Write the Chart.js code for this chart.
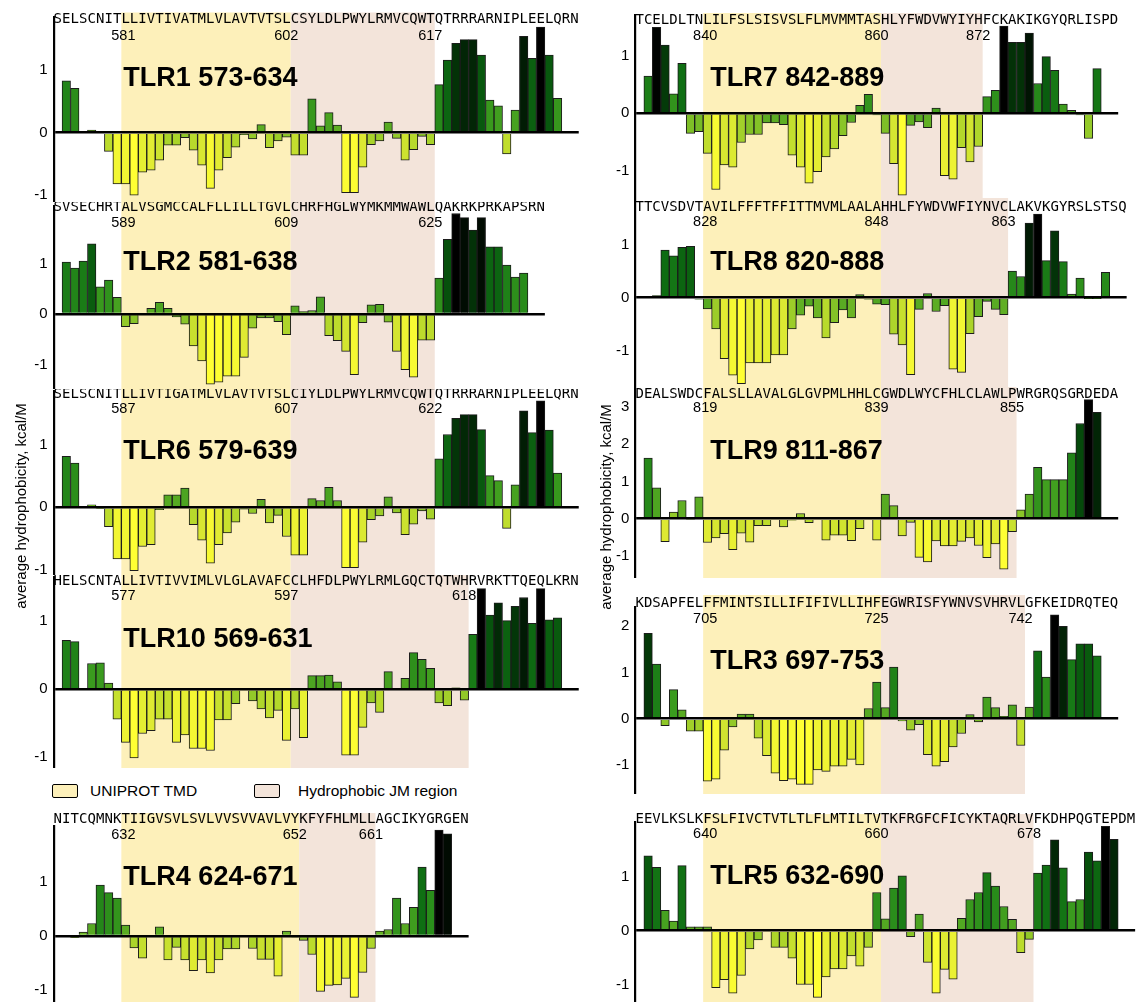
<!DOCTYPE html>
<html>
<head>
<meta charset="utf-8">
<script src="https://cdn.jsdelivr.net/npm/chart.js@4.4.1/dist/chart.umd.min.js"></script>
<style>
  body { margin: 0; background: #fff; }
  #page { position: relative; width: 1137px; height: 1002px; overflow: hidden;
          font-family: "Liberation Sans", Arial, sans-serif; color: #000; }
  #page canvas { position: absolute; }
  .ytitle { position: absolute; width: 260px; height: 18px; line-height: 18px; font-size: 15px;
            text-align: center; white-space: nowrap; transform: rotate(-90deg); }
  .key { position: absolute; width: 24px; height: 12px; border: 1.5px solid #000; border-radius: 2px; }
  .keytext { position: absolute; font-size: 15.5px; line-height: 18px; white-space: nowrap; }
</style>
</head>
<body>
<div id="page">
  <div class="key" style="left:52px; top:784px; background:#fdf0ba;"></div>
  <div class="keytext" style="left:90px; top:782px;">UNIPROT TMD</div>
  <div class="key" style="left:254px; top:784px; background:#f3e4da;"></div>
  <div class="keytext" style="left:298px; top:782px;">Hydrophobic JM region</div>
</div>
<script>
// sequence pieces: flank, TMD, hydrophobic JM, flank
const tlr1Parts = ["SELSCNIT", "LLIVTIVATMLVLAVTVTSL", "CSYLDLPWYLRMVCQWT", "QTRRRARNIPLEELQRN"];
const tlr2Parts = ["SVSECHRT", "ALVSGMCCALFLLILLTGVL", "CHRFHGLWYMKMMWAWL", "QAKRKPRKAPSRN"];
const tlr6Parts = ["SELSCNIT", "LLIVTIGATMLVLAVTVTSL", "CIYLDLPWYLRMVCQWT", "QTRRRARNIPLEELQRN"];
const tlr10Parts = ["HELSCNTA", "LLIVTIVVIMLVLGLAVAFC", "CLHFDLPWYLRMLGQCTQTWH", "RVRKTTQEQLKRN"];
const tlr4Parts = ["NITCQMNK", "TIIGVSVLSVLVVSVVAVLVY", "KFYFHLMLL", "AGCIKYGRGEN"];
const tlr7Parts = ["TCELDLTN", "LILFSLSISVSLFLMVMMTAS", "HLYFWDVWYIYH", "FCKAKIKGYQRLISPD"];
const tlr8Parts = ["TTCVSDVT", "AVILFFFTFFITTMVMLAALA", "HHLFYWDVWFIYNVC", "LAKVKGYRSLSTSQ"];
const tlr9Parts = ["DEALSWDC", "FALSLLAVALGLGVPMLHHLC", "GWDLWYCFHLCLAWLP", "WRGRQSGRDEDA"];
const tlr3Parts = ["KDSAPFEL", "FFMINTSILLIFIFIVLLIHF", "EGWRISFYWNVSVHRVL", "GFKEIDRQTEQ"];
const tlr5Parts = ["EEVLKSLK", "FSLFIVCTVTLTLFLMTILTV", "TKFRGFCFICYKTAQRLV", "FKDHPQGTEPDM"];

// average hydrophobicity (kcal/M), one value per residue letter; null = no bar
const tlr1Hyd = [null, 0.83, 0.71, 0, 0.04, 0, -0.30, -0.82, -0.82, -1.0, -0.63, -0.60, -0.44, -0.20, -0.20, -0.08,
  -0.28, -0.52, -0.89, -0.60, -0.40, -0.23, -0.03, -0.10, 0.13, -0.24, -0.13, -0.07, -0.36, -0.36, 0.54, 0.11, 0.32,
  0.12, -0.96, -0.96, -0.55, -0.19, -0.13, 0.17, -0.09, -0.44, -0.27, -0.06, -0.19, 0.77, 1.16, 1.43, 1.49, 1.49,
  1.24, 0.52, 0.43, -0.34, 0.36, 1.54, 1.19, 1.69, 1.24, 0.55, null, null];
const tlr2Hyd = [null, 1.03, 0.91, 1.05, 1.39, 0.54, 0.67, 0.33, -0.25, -0.19, 0, 0.11, 0.23, 0.11, -0.06, -0.20,
  -0.63, -0.93, -1.39, -1.35, -1.23, -1.23, -0.86, -0.28, -0.08, -0.08, -0.15, -0.41, 0.16, 0.05, 0.07, 0.34, -0.43,
  -0.53, -0.74, -1.20, -0.17, 0.18, 0.19, -0.16, -0.74, -1.10, -1.25, -0.52, -0.52, 0.71, 1.48, 1.99, 1.91, 1.66,
  1.91, 1.33, 1.33, 0.97, 0.73, 0.81, null, null];
const tlr6Hyd = [null, 0.82, 0.71, 0, 0.04, -0.01, -0.31, -0.83, -0.83, -1.02, -0.63, -0.60, -0.04, 0.20, 0.20, 0.31,
  -0.28, -0.53, -0.90, -0.60, -0.41, -0.24, -0.03, -0.10, 0.13, -0.25, -0.13, -0.47, -0.77, -0.77, 0.14, 0.11, 0.32,
  0.11, -0.97, -0.97, -0.56, -0.20, -0.14, 0.17, -0.09, -0.44, -0.27, -0.06, -0.19, 0.78, 1.17, 1.43, 1.49, 1.49,
  1.25, 0.51, 0.43, -0.34, 0.36, 1.55, 1.20, 1.71, 1.24, 0.55, null, null];
const tlr10Hyd = [null, 0.72, 0.70, 0, 0.38, 0.39, 0.09, -0.44, -0.78, -1.01, -0.65, -0.61, -0.44, -0.44, -0.78, -0.67,
  -0.87, -0.87, -0.90, -0.45, -0.45, -0.21, 0, -0.17, -0.29, -0.42, -0.31, -0.75, -0.29, -0.71, 0.20, 0.20, 0.21,
  0.11, -0.97, -0.97, -0.56, -0.20, -0.34, 0.26, 0, 0.16, 0.54, 0.44, 0.31, -0.20, -0.24, 0.02, -0.16, 0.81, 1.48,
  1.09, 1.27, 1.01, 1.22, 1.35, 0.97, 1.48, 1.02, 1.05, null, null];
const tlr4Hyd = [null, 0, -0.03, 0.07, 0.23, 0.94, 0.80, 0.70, 0.20, -0.22, -0.41, 0, 0.17, -0.44, -0.21, -0.44,
  -0.64, -0.44, -0.68, -0.44, -0.24, -0.24, 0, -0.23, -0.43, -0.43, -0.74, 0.09, -0.02, -0.08, -0.34, -1.02, -0.91,
  -0.90, -0.78, -1.13, -0.67, -0.23, 0.09, 0.12, 0.70, 0.23, 0.53, 1.27, 0.84, 1.95, 1.88, null, null];
const tlr7Hyd = [null, 0.65, 1.50, 1.19, 0.34, 0.87, -0.35, -0.32, -0.70, -1.33, -0.90, -0.94, -0.51, -0.37, -0.37,
  -0.17, -0.17, -0.20, -0.73, -0.94, -1.22, -1.02, -0.76, -0.62, -0.39, -0.16, 0.14, 0.33, -0.03, -0.35, -0.88, -1.43,
  -0.21, -0.15, -0.25, 0.09, -1.09, -1.15, -0.60, -0.85, -0.58, 0.29, 0.40, 1.52, 1.24, 1.24, 1.40, 0.52, 0.99, 0.75,
  0.16, 0.05, -0.03, -0.44, 0.78, null, null];
const tlr8Hyd = [null, null, 0.04, 0.90, 0.79, 0.95, 0.97, -0.03, -0.21, -0.59, -1.15, -1.46, -1.62, -1.23, -1.23,
  -1.23, -1.08, -1.08, -0.59, -0.33, -0.16, -0.38, -0.76, -0.47, -0.23, -0.38, 0.06, -0.03, -0.12, -0.13, -0.69,
  -0.89, -1.45, -0.22, 0.08, -0.26, -0.15, -1.35, -1.41, -0.68, -0.36, -0.07, -0.22, -0.32, 0.50, 0.40, 1.41, 1.58,
  0.70, 1.26, 0.68, 0.07, 0.37, -0.01, -0.01, 0.48, null, null];
const tlr9Hyd = [null, 1.63, 0.83, -0.62, 0.18, 0.49, -0.03, 0.59, -0.64, -0.52, -0.40, -0.83, -0.39, -0.63, -0.19,
  -0.19, 0, -0.22, -0.04, 0.14, -0.11, 0.03, -0.58, -0.44, -0.44, -0.59, -0.27, 0, -0.58, 0.66, 0.35, -0.46, -0.10,
  -1.04, -1.16, -0.60, -0.73, -0.73, -0.61, -0.52, -0.72, -1.05, -0.68, -1.36, -0.35, 0.24, 0.66, 1.38, 1.05, 1.05,
  1.05, 1.77, 2.56, 3.20, 2.86, null, null];
const tlr3Hyd = [null, 1.85, 1.18, -0.15, 0.63, 0.19, -0.27, -0.27, -1.35, -1.31, -0.68, -0.18, 0.10, 0.10, -0.42,
  -0.80, -1.18, -1.34, -1.31, -1.42, -1.42, -1.11, -1.14, -1.03, -1.03, -0.88, -1.00, 0.22, 0.79, 0.24, 1.12, -0.05,
  -0.25, -0.13, -0.78, -1.03, -0.93, -0.61, -0.32, 0.09, -0.07, 0.47, 0.24, 0.05, 0.30, -0.58, 0.25, 1.47, 0.90, 2.25,
  2.00, 1.28, 1.62, 1.62, 1.36, null, null];
const tlr5Hyd = [null, 1.39, 1.18, 0.38, 0.18, 1.21, 0.07, 0.07, 0.07, -1.06, -0.91, -1.16, -0.83, -0.34, -0.17, 0,
  -0.31, -0.31, -0.51, -1.00, -1.00, -1.24, -0.86, -0.71, -0.71, -0.47, -0.66, -0.31, 0.71, 0.22, 0.79, 1.02, -0.11,
  0.31, -0.59, -1.16, -0.72, -0.90, 0.23, 0.58, 0.71, 1.08, 0.83, 0.45, 0.21, -0.41, -0.16, 1.07, 1.22, 1.69, 1.17,
  0.54, 0.58, 1.46, 1.30, 1.94, 1.70, null, null];

// residue numbers at TMD start, TMD end, JM end
const tlr1Marks = [581, 602, 617];
const tlr2Marks = [589, 609, 625];
const tlr6Marks = [587, 607, 622];
const tlr10Marks = [577, 597, 618];
const tlr4Marks = [632, 652, 661];
const tlr7Marks = [840, 860, 872];
const tlr8Marks = [828, 848, 863];
const tlr9Marks = [819, 839, 855];
const tlr3Marks = [705, 725, 742];
const tlr5Marks = [640, 660, 678];

const ticksSmall = [-1, 0, 1];
const ticksTlr9 = [-1, 0, 1, 2, 3];
const ticksTlr3 = [-1, 0, 1, 2];

const LETTER_W = 8.47;
const SEQ_FONT = 14;
const TMD_FILL = '#fdf0ba';
const JM_FILL = '#f3e4da';
const COLS = [{ left: 0, axis: 53.6, titleDx: 2 }, { left: 590, axis: 635.4, titleDx: 7 }];

const panels = [
  { title: 'TLR1 573-634', parts: tlr1Parts, hyd: tlr1Hyd, marks: tlr1Marks, ticks: ticksSmall, col: 0,
    top: 10, shadeTop: 12.5, axisTop: 17, seqY: 19.5, bottom: 202, zero: 132.7, unit: 62.5, numY: 40, titleY: 86 },
  { title: 'TLR2 581-638', parts: tlr2Parts, hyd: tlr2Hyd, marks: tlr2Marks, ticks: ticksSmall, col: 0,
    top: 202, shadeTop: 202, axisTop: 206, seqY: 207.5, bottom: 389, zero: 314, unit: 50.5, numY: 226.5, titleY: 270 },
  { title: 'TLR6 579-639', parts: tlr6Parts, hyd: tlr6Hyd, marks: tlr6Marks, ticks: ticksSmall, col: 0,
    top: 389, shadeTop: 389, axisTop: 391, seqY: 394.3, bottom: 575, zero: 507.3, unit: 62.2, numY: 413, titleY: 459 },
  { title: 'TLR10 569-631', parts: tlr10Parts, hyd: tlr10Hyd, marks: tlr10Marks, ticks: ticksSmall, col: 0,
    top: 575, shadeTop: 575, axisTop: 577, seqY: 581, bottom: 768, zero: 689.3, unit: 68, numY: 600, titleY: 647 },
  { title: 'TLR4 624-671', parts: tlr4Parts, hyd: tlr4Hyd, marks: tlr4Marks, ticks: ticksSmall, col: 0,
    top: 812, shadeTop: 813, axisTop: 826, seqY: 819.7, bottom: 1002, zero: 936, unit: 54.3, numY: 839, titleY: 885 },
  { title: 'TLR7 842-889', parts: tlr7Parts, hyd: tlr7Hyd, marks: tlr7Marks, ticks: ticksSmall, col: 1,
    top: 10, shadeTop: 13, axisTop: 15, seqY: 20, bottom: 198, zero: 113.3, unit: 57.3, numY: 40, titleY: 86 },
  { title: 'TLR8 820-888', parts: tlr8Parts, hyd: tlr8Hyd, marks: tlr8Marks, ticks: ticksSmall, col: 1,
    top: 198, shadeTop: 198, axisTop: 198, seqY: 207, bottom: 387, zero: 297.7, unit: 53, numY: 226, titleY: 270 },
  { title: 'TLR9 811-867', parts: tlr9Parts, hyd: tlr9Hyd, marks: tlr9Marks, ticks: ticksTlr9, col: 1,
    top: 387, shadeTop: 387, axisTop: 387, seqY: 394, bottom: 578, zero: 518.7, unit: 37.2, numY: 412.3, titleY: 459 },
  { title: 'TLR3 697-753', parts: tlr3Parts, hyd: tlr3Hyd, marks: tlr3Marks, ticks: ticksTlr3, col: 1,
    top: 594, shadeTop: 595, axisTop: 606.7, seqY: 603, bottom: 794, zero: 718.7, unit: 46.2, numY: 623, titleY: 669 },
  { title: 'TLR5 632-690', parts: tlr5Parts, hyd: tlr5Hyd, marks: tlr5Marks, ticks: ticksSmall, col: 1,
    top: 812, shadeTop: 814, axisTop: 821.7, seqY: 819, bottom: 1002, zero: 930.7, unit: 53.8, numY: 838.3, titleY: 884 }
];

// yellow -> green -> black, normalised to each panel's own range
const RAMP = [
  [0.00, [255, 255, 51]], [0.15, [226, 236, 51]], [0.28, [180, 216, 43]], [0.35, [140, 198, 40]],
  [0.40, [98, 176, 36]], [0.55, [60, 156, 30]], [0.66, [38, 137, 26]], [0.78, [15, 111, 19]],
  [0.85, [6, 80, 12]], [0.92, [2, 40, 6]], [1.00, [0, 0, 0]]
];
function hydColor(v, lo, hi) {
  if (v === null || v === undefined) return 'rgba(0,0,0,0)';
  const t = Math.max(0, Math.min(1, (v - lo) / (hi - lo)));
  for (let i = 1; i < RAMP.length; i++) {
    if (t <= RAMP[i][0]) {
      const [t0, c0] = RAMP[i - 1], [t1, c1] = RAMP[i];
      const f = (t - t0) / (t1 - t0);
      const c = c0.map((a, k) => Math.round(a + (c1[k] - a) * f));
      return `rgb(${c[0]},${c[1]},${c[2]})`;
    }
  }
  return '#000';
}

const panelDecor = {
  id: 'panelDecor',
  beforeDraw(chart, args, o) {
    const { ctx, chartArea: a, scales: { x } } = chart;
    const band = x.getPixelForValue(1) - x.getPixelForValue(0);
    const edge = i => x.getPixelForValue(i) - band / 2;
    ctx.save();
    ctx.fillStyle = TMD_FILL;
    ctx.fillRect(edge(o.tmd0), o.shadeTop, edge(o.tmd1) - edge(o.tmd0), a.bottom - o.shadeTop);
    ctx.fillStyle = JM_FILL;
    ctx.fillRect(edge(o.tmd1), o.shadeTop, edge(o.jm1) - edge(o.tmd1), a.bottom - o.shadeTop);
    ctx.restore();
  },
  afterDraw(chart, args, o) {
    const { ctx, scales: { x } } = chart;
    const band = x.getPixelForValue(1) - x.getPixelForValue(0);
    const edge = i => x.getPixelForValue(i) - band / 2;
    ctx.save();
    ctx.fillStyle = '#000';
    ctx.textBaseline = 'alphabetic';
    ctx.textAlign = 'center';
    ctx.font = '14.5px "Liberation Sans", Arial, sans-serif';
    [o.tmd0, o.tmd1, o.jm1].forEach((b, k) => {
      ctx.fillText(String(o.marks[k]), edge(b) + (k === 0 ? 2 : -4.5), o.numY);
    });
    ctx.textAlign = 'left';
    ctx.font = 'bold 27px "Liberation Sans", Arial, sans-serif';
    ctx.fillText(o.title, edge(o.tmd0) + o.titleDx, o.titleY);
    ctx.restore();
  }
};

const page = document.getElementById('page');

panels.forEach(p => {
  const seq = p.parts.join('');
  const n = seq.length;
  const col = COLS[p.col];
  const leftW = col.axis - col.left;
  const w = Math.ceil(leftW + n * LETTER_W);
  const h = Math.round(p.bottom - p.top);
  const cv = document.createElement('canvas');
  cv.width = w; cv.height = h;
  cv.style.left = col.left + 'px';
  cv.style.top = p.top + 'px';
  cv.style.width = w + 'px';
  cv.style.height = h + 'px';
  page.insertBefore(cv, page.firstChild);

  const areaTop = p.axisTop - p.top;
  const yMax = (p.zero - p.axisTop) / p.unit;
  const yMin = (p.zero - (p.top + h)) / p.unit;
  const vals = p.hyd.filter(v => v !== null);
  const lo = Math.min(...vals), hi = Math.max(...vals);
  const tmd0 = p.parts[0].length;
  const tmd1 = tmd0 + p.parts[1].length;
  const jm1 = tmd1 + p.parts[2].length;

  new Chart(cv, {
    type: 'bar',
    data: {
      labels: seq.split(''),
      datasets: [{
        data: p.hyd,
        backgroundColor: c => hydColor(c.raw, lo, hi),
        borderColor: '#1c1c1c',
        borderWidth: 1,
        categoryPercentage: 1,
        barPercentage: 1
      }]
    },
    options: {
      responsive: false,
      animation: false,
      devicePixelRatio: 1,
      layout: { padding: { top: areaTop, right: w - leftW - n * LETTER_W, bottom: 0, left: 0 } },
      plugins: {
        legend: { display: false },
        tooltip: { enabled: false },
        panelDecor: {
          tmd0, tmd1, jm1, marks: p.marks, title: p.title, titleDx: col.titleDx,
          shadeTop: p.shadeTop - p.top, numY: p.numY - p.top, titleY: p.titleY - p.top
        }
      },
      scales: {
        x: {
          position: 'top',
          grid: { display: false, drawTicks: false },
          border: { display: false },
          ticks: {
            // residue letters sit on the chart's top edge, one per bar
            mirror: true,
            autoSkip: false, maxRotation: 0, minRotation: 0, z: 3, color: '#000',
            padding: (p.seqY - p.axisTop) - SEQ_FONT * 0.6,
            font: { family: '"DejaVu Sans Mono", monospace', size: SEQ_FONT }
          },
          afterFit: s => { s.height = 0; s.paddingLeft = 0; s.paddingRight = 0; }
        },
        y: {
          min: yMin,
          max: yMax,
          border: { color: '#000', width: 2.2, z: 2 },
          grid: {
            drawTicks: false,
            z: 1,
            lineWidth: 2.5,
            color: c => (c.tick && c.tick.value === 0) ? '#000' : 'rgba(0,0,0,0)'
          },
          ticks: {
            padding: 6, color: '#000',
            font: { family: '"Liberation Sans", Arial, sans-serif', size: 15 },
            callback: v => String(v)
          },
          afterBuildTicks: s => { s.ticks = p.ticks.map(v => ({ value: v })); },
          afterFit: s => { s.width = leftW; s.paddingTop = 0; s.paddingBottom = 0; }
        }
      }
    },
    plugins: [panelDecor]
  });
});

// axis titles, one per column
[[21, 506], [606, 507]].forEach(([cx, cy]) => {
  const d = document.createElement('div');
  d.className = 'ytitle';
  d.textContent = 'average hydrophobicity, kcal/M';
  d.style.left = (cx - 130) + 'px';
  d.style.top = (cy - 9) + 'px';
  page.appendChild(d);
});
</script>
</body>
</html>
